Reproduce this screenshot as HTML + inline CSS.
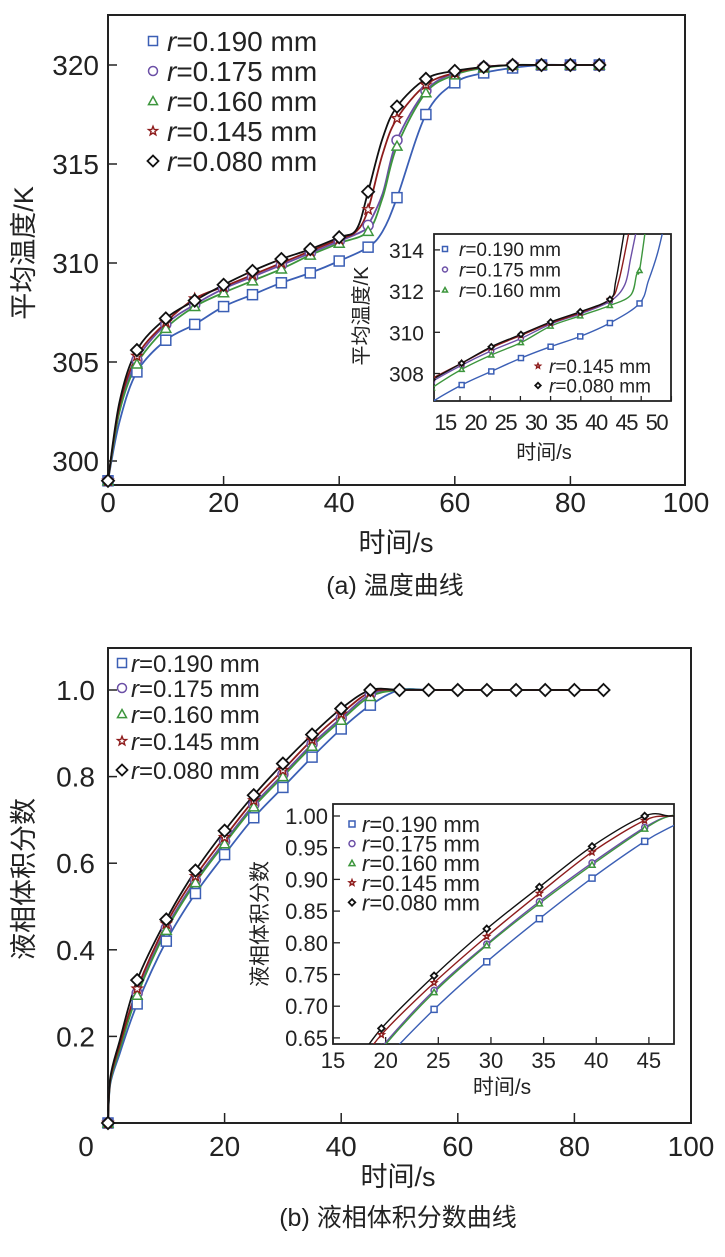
<!DOCTYPE html>
<html><head><meta charset="utf-8">
<style>
html,body{margin:0;padding:0;background:#fff;}
svg{display:block;}
text{font-family:"Liberation Sans","Noto Sans CJK SC",sans-serif;fill:#222;}
.cn{font-family:"Liberation Sans","Noto Sans CJK SC",sans-serif;}
</style></head>
<body>
<svg id="s" width="725" height="1257" viewBox="0 0 725 1257" xmlns="http://www.w3.org/2000/svg">
<defs>
<clipPath id="c1"><rect x="434" y="234" width="237" height="167"/></clipPath>
<clipPath id="c2"><rect x="333" y="804" width="341" height="240"/></clipPath>
</defs>
<g id="g"></g>
</svg>
<script>
var g=document.getElementById('g');var out='';
var COL=['#3b5fb5','#6b4fa6','#3d963d','#8e1c1c','#111'];
var MK=['sq','ci','tr','st','di'];
function path(pts,X,Y){
 var p=pts.map(function(a){return [X(a[0]),Y(a[1])];});
 var d='M'+p[0][0].toFixed(1)+','+p[0][1].toFixed(1);
 for(var i=0;i<p.length-1;i++){
  var p0=p[i-1]||p[i],p1=p[i],p2=p[i+1],p3=p[i+2]||p2;
  var c1x=p1[0]+(p2[0]-p0[0])/6,c1y=p1[1]+(p2[1]-p0[1])/6;
  var c2x=p2[0]-(p3[0]-p1[0])/6,c2y=p2[1]-(p3[1]-p1[1])/6;
  d+=' C'+c1x.toFixed(1)+','+c1y.toFixed(1)+' '+c2x.toFixed(1)+','+c2y.toFixed(1)+' '+p2[0].toFixed(1)+','+p2[1].toFixed(1);
 }
 return d;
}
function marker(t,x,y,s,c){
 var h=s/2;
 if(t=='sq')return '<rect x="'+(x-h)+'" y="'+(y-h)+'" width="'+s+'" height="'+s+'" fill="#fff" stroke="'+c+'" stroke-width="1.5"/>';
 if(t=='ci')return '<circle cx="'+x+'" cy="'+y+'" r="'+h+'" fill="#fff" stroke="'+c+'" stroke-width="1.5"/>';
 if(t=='tr')return '<polygon points="'+x+','+(y-h)+' '+(x+h)+','+(y+h*0.8)+' '+(x-h)+','+(y+h*0.8)+'" fill="#fff" stroke="'+c+'" stroke-width="1.5"/>';
 if(t=='di')return '<polygon points="'+x+','+(y-h*1.1)+' '+(x+h*1.1)+','+y+' '+x+','+(y+h*1.1)+' '+(x-h*1.1)+','+y+'" fill="#fff" stroke="'+c+'" stroke-width="1.8"/>';
 if(t=='st'){var s2='';for(var k=0;k<10;k++){var r=k%2?h*0.45:h*1.05;var a=-Math.PI/2+k*Math.PI/5;s2+=(x+r*Math.cos(a)).toFixed(1)+','+(y+r*Math.sin(a)).toFixed(1)+' ';}
  return '<polygon points="'+s2+'" fill="#fff" stroke="'+c+'" stroke-width="1.4"/>';}
}
function txt(x,y,s,sz,anchor,extra){return '<text x="'+x+'" y="'+y+'" font-size="'+sz+'" text-anchor="'+(anchor||'start')+'" '+(extra||'')+'>'+s+'</text>';}
var LAB=['0.190','0.175','0.160','0.145','0.080'];
function rlab(v){return '<tspan font-style="italic">r</tspan>=' + v + ' mm';}

/* ===== chart A ===== */
var AX=function(t){return 108+t*5.78;}, AY=function(v){return 461-(v-300)*19.8;};
var A=[
[[0,299],[2,302],[5,304.5],[10,306.1],[15,306.9],[20,307.8],[25,308.4],[30,309],[35,309.5],[40,310.1],[45,310.8],[47.5,311.6],[50,313.3],[55,317.5],[60,319.1],[65,319.6],[70,319.85],[75,320],[80,320],[85,320]],
[[0,299],[2,302.6],[5,305.1],[10,306.9],[15,307.9],[20,308.7],[25,309.3],[30,309.9],[35,310.5],[40,311.1],[44,311.6],[45,311.9],[47.5,313.5],[50,316.2],[55,318.7],[60,319.6],[65,319.9],[70,320],[75,320],[80,320],[85,320]],
[[0,299],[2,302.5],[5,304.9],[10,306.7],[15,307.8],[20,308.5],[25,309.1],[30,309.7],[35,310.4],[40,311],[45,311.6],[47.5,313.3],[50,315.9],[55,318.6],[60,319.5],[65,319.85],[70,320],[75,320],[80,320],[85,320]],
[[0,299],[2,302.8],[5,305.3],[10,307],[15,308.2],[20,308.8],[25,309.4],[30,310],[35,310.6],[40,311.2],[43,311.6],[45,312.7],[47.5,315.5],[50,317.3],[55,319],[60,319.6],[65,319.9],[70,320],[75,320],[80,320],[85,320]],
[[0,299],[2,303],[5,305.6],[10,307.2],[15,308.1],[20,308.9],[25,309.6],[30,310.2],[35,310.7],[40,311.3],[43,311.7],[45,313.6],[47.5,316.3],[50,317.9],[55,319.3],[60,319.7],[65,319.9],[70,320],[75,320],[80,320],[85,320]]
];
out+='<rect x="108" y="15" width="577" height="470" fill="none" stroke="#222" stroke-width="2"/>';
for(var t=20;t<100;t+=20)out+='<line x1="'+AX(t)+'" y1="485" x2="'+AX(t)+'" y2="476" stroke="#222" stroke-width="1.5"/>';
for(var v=300;v<=320;v+=5)out+='<line x1="108" y1="'+AY(v)+'" x2="117" y2="'+AY(v)+'" stroke="#222" stroke-width="1.5"/>';
for(var v=300;v<=320;v+=5)out+=txt(99,AY(v)+10,v,28,'end');
[0,20,40,60,80,100].forEach(function(t){out+=txt(AX(t),512,t,28,'middle');});
out+=txt(396,552,'时间/s',27,'middle','class="cn"');
out+=txt(395,594,'(a) 温度曲线',25,'middle','class="cn"');
out+='<text x="0" y="0" font-size="27" text-anchor="middle" class="cn" transform="translate(33,253) rotate(-90)">平均温度/K</text>';
for(var i=0;i<5;i++){
 out+='<path d="'+path(A[i],AX,AY)+'" fill="none" stroke="'+COL[i]+'" stroke-width="1.8"/>';
}
for(var i=0;i<5;i++){A[i].forEach(function(a){if(a[0]%5==0)out+=marker(MK[i],AX(a[0]),AY(a[1]),i==4?11:10,COL[i]);});}
for(var i=0;i<5;i++){var y=41+i*30;out+=marker(MK[i],153,y,i==4?10:9,COL[i]);out+=txt(167,y+10,rlab(LAB[i]),28);}

/* inset A */
var aX=function(t){return 432+(t-15)*5.93;}, aY=function(v){return 373.5-(v-308)*20.6;};
var a=[
[[13,305.9],[15,306.6],[20,307.44],[25,308.1],[30,308.75],[35,309.3],[40,309.8],[45,310.45],[50,311.4],[51.5,312.5],[53,313.8],[54,315]],
[[14,307.3],[15,307.6],[20,308.4],[25,309.1],[30,309.7],[35,310.4],[40,310.9],[45,311.5],[47.5,312.3],[48.5,313.6],[49.5,315]],
[[14,307.0],[15,307.3],[20,308.2],[25,308.9],[30,309.5],[35,310.3],[40,310.8],[45,311.3],[48.5,311.8],[49.5,312.8],[50,313.0],[51,315]],
[[14,307.5],[15,307.75],[20,308.5],[25,309.25],[30,309.85],[35,310.45],[40,310.95],[45,311.6],[46.5,312.5],[48.3,315]],
[[14,307.45],[15,307.7],[20,308.5],[25,309.3],[30,309.9],[35,310.5],[40,311],[45,311.6],[46,312.5],[47.5,315]]
];
out+='<rect x="434" y="234" width="237" height="167" fill="#fff" stroke="#222" stroke-width="1.8"/>';
[314,312,310,308].forEach(function(v){out+='<line x1="434" y1="'+aY(v)+'" x2="440" y2="'+aY(v)+'" stroke="#222" stroke-width="1.3"/>';out+=txt(424,aY(v)+8,v,21,'end');});
for(var k=0;k<8;k++){var x=445+k*30.2;out+='<line x1="'+(x+15)+'" y1="401" x2="'+(x+15)+'" y2="396" stroke="#222" stroke-width="1.3"/>';out+=txt(x,430,15+5*k,22,'middle','letter-spacing="-1.5"');}
out+=txt(544,459,'时间/s',20,'middle','class="cn"');
out+='<text x="0" y="0" font-size="20" text-anchor="middle" class="cn" transform="translate(368,316) rotate(-90)">平均温度/K</text>';
out+='<g clip-path="url(#c1)">';
for(var i=0;i<5;i++)out+='<path d="'+path(a[i],aX,aY)+'" fill="none" stroke="'+COL[i]+'" stroke-width="1.4"/>';
for(var i=0;i<5;i++)a[i].forEach(function(p){if(p[0]%5==0)out+=marker(MK[i],aX(p[0]),aY(p[1]),5,COL[i]);});
out+='</g>';
for(var i=0;i<3;i++){var y=249+i*20.5;out+=marker(MK[i],445,y,5,COL[i]);out+=txt(459,y+7,rlab(LAB[i]),19);}
for(var i=3;i<5;i++){var y=366+(i-3)*19.5;out+=marker(MK[i],538,y,5,COL[i]);out+=txt(549,y+7,rlab(LAB[i]),19);}

/* ===== chart B ===== */
var BX=function(t){return 108+t*5.83;}, BY=function(v){return 1123-v*433;};
var T=[0,0.4,2,5,10,15,20,25,30,35,40,45,50,55,60,65,70,75,80,85];
var B=[
[0,0.09,0.16,0.275,0.42,0.53,0.62,0.705,0.775,0.845,0.91,0.965,1,1,1,1,1,1,1,1],
[0,0.1,0.175,0.30,0.45,0.56,0.65,0.735,0.805,0.875,0.935,0.99,1,1,1,1,1,1,1,1],
[0,0.095,0.17,0.295,0.445,0.555,0.645,0.73,0.80,0.87,0.93,0.985,1,1,1,1,1,1,1,1],
[0,0.1,0.18,0.31,0.46,0.57,0.66,0.745,0.815,0.885,0.945,0.995,1,1,1,1,1,1,1,1],
[0,0.105,0.19,0.33,0.47,0.583,0.675,0.757,0.83,0.897,0.957,1,1,1,1,1,1,1,1,1]
];
out+='<rect x="108" y="648" width="583" height="475" fill="none" stroke="#222" stroke-width="2"/>';
for(var t=20;t<100;t+=20)out+='<line x1="'+BX(t)+'" y1="1123" x2="'+BX(t)+'" y2="1113" stroke="#222" stroke-width="1.5"/>';
[0.2,0.4,0.6,0.8,1.0].forEach(function(v){out+='<line x1="108" y1="'+BY(v)+'" x2="117" y2="'+BY(v)+'" stroke="#222" stroke-width="1.5"/>';out+=txt(95,BY(v)+10,v.toFixed(1),28,'end');});
out+=txt(86,1156,'0',28,'middle');
[20,40,60,80,100].forEach(function(t){out+=txt(BX(t),1156,t,28,'middle');});
out+=txt(398,1186,'时间/s',27,'middle','class="cn"');
out+=txt(398,1226,'(b) 液相体积分数曲线',25,'middle','class="cn"');
out+='<text x="0" y="0" font-size="27" text-anchor="middle" class="cn" transform="translate(33,879) rotate(-90)">液相体积分数</text>';
for(var i=0;i<5;i++){var pts=T.map(function(t,j){return [t,B[i][j]];});
 out+='<path d="'+path(pts,BX,BY)+'" fill="none" stroke="'+COL[i]+'" stroke-width="1.8"/>';}
for(var i=0;i<5;i++)T.forEach(function(t,j){if(t%5==0&&(t<50||i==4))out+=marker(MK[i],BX(t),BY(B[i][j]),i==4?11:10,COL[i]);});
var LY=[663,688,714,741,770];
for(var i=0;i<5;i++){out+=marker(MK[i],122,LY[i],i==4?10:9,COL[i]);out+=txt(131,LY[i]+9,rlab(LAB[i]),24);}

/* inset B */
var bX=function(t){return 333+(t-15)*10.53;}, bY=function(v){return 816-(v-1)*634;};
var TB=[17,19.6,24.6,29.6,34.6,39.6,44.6,47,49];
var b=[
[0.56,0.61,0.695,0.77,0.838,0.902,0.96,0.982,0.998],
[0.575,0.635,0.725,0.798,0.865,0.926,0.982,1,1],
[0.57,0.632,0.722,0.796,0.862,0.923,0.98,1,1],
[0.595,0.655,0.737,0.81,0.878,0.943,0.993,1,1],
[0.605,0.665,0.748,0.822,0.888,0.952,1.0,1,1]
];
out+='<rect x="333" y="804" width="341" height="240" fill="#fff" stroke="#222" stroke-width="1.8"/>';
[1.00,0.95,0.90,0.85,0.80,0.75,0.70,0.65].forEach(function(v){out+='<line x1="333" y1="'+bY(v)+'" x2="340" y2="'+bY(v)+'" stroke="#222" stroke-width="1.3"/>';out+=txt(328,bY(v)+8,v.toFixed(2),22,'end');});
[15,20,25,30,35,40,45].forEach(function(t){out+='<line x1="'+bX(t)+'" y1="1044" x2="'+bX(t)+'" y2="1037" stroke="#222" stroke-width="1.3"/>';out+=txt(bX(t),1068,t,22,'middle');});
out+=txt(502,1094,'时间/s',21,'middle','class="cn"');
out+='<text x="0" y="0" font-size="21" text-anchor="middle" class="cn" transform="translate(267,924) rotate(-90)">液相体积分数</text>';
out+='<g clip-path="url(#c2)">';
for(var i=0;i<5;i++){var pts=TB.map(function(t,j){return [t,b[i][j]];});out+='<path d="'+path(pts,bX,bY)+'" fill="none" stroke="'+COL[i]+'" stroke-width="1.4"/>';}
for(var i=0;i<5;i++)TB.forEach(function(t,j){if(j>0&&j<7)out+=marker(MK[i],bX(t),bY(b[i][j]),6,COL[i]);});
out+='</g>';
for(var i=0;i<5;i++){var y=824+i*19.6;out+=marker(MK[i],352,y,6,COL[i]);out+=txt(362,y+8,rlab(LAB[i]),22);}
g.innerHTML=out;
</script>
</body></html>
